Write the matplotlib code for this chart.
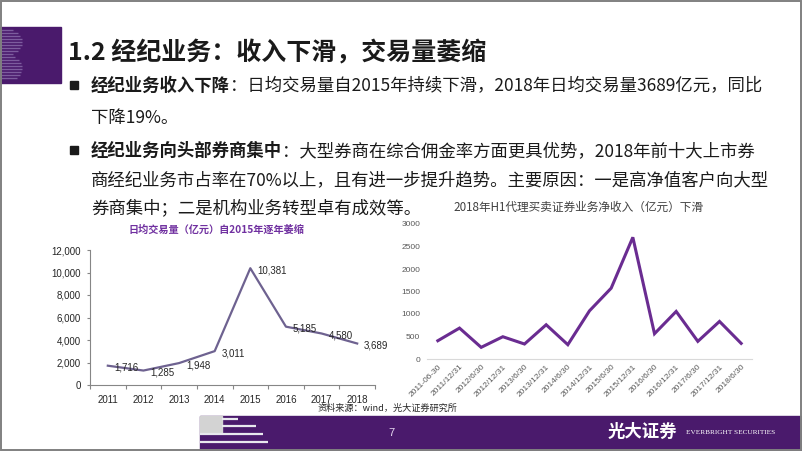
import matplotlib
matplotlib.use('Agg')
import matplotlib.pyplot as plt
from matplotlib.patches import Rectangle
import numpy as np

plt.rcParams['font.family'] = ['Noto Sans CJK SC', 'DejaVu Sans']

# ---------------- data ----------------
years = ['2011', '2012', '2013', '2014', '2015', '2016', '2017', '2018']
daily_volume = [1716, 1285, 1948, 3011, 10381, 5185, 4580, 3689]
left_yticks = [0, 2000, 4000, 6000, 8000, 10000, 12000]

periods = ['2011-06-30', '2011/12/31', '2012/6/30', '2012/12/31', '2013/6/30',
           '2013/12/31', '2014/6/30', '2014/12/31', '2015/6/30', '2015/12/31',
           '2016/6/30', '2016/12/31', '2017/6/30', '2017/12/31', '2018/6/30']
net_income = [406, 687, 259, 495, 333, 761, 318, 1071, 1574, 2704,
              562, 1057, 392, 835, 347]
right_yticks = [0, 500, 1000, 1500, 2000, 2500, 3000]

title = '1.2 经纪业务：收入下滑，交易量萎缩'
bullet1 = [('经纪业务收入下降', True), ('：日均交易量自2015年持续下滑，2018年日均交易量3689亿元，同比', False)]
bullet1_cont = '下降19%。'
bullet2 = [('经纪业务向头部券商集中', True), ('：大型券商在综合佣金率方面更具优势，2018年前十大上市券', False)]
bullet2_cont = ['商经纪业务市占率在70%以上，且有进一步提升趋势。主要原因：一是高净值客户向大型',
                '券商集中；二是机构业务转型卓有成效等。']
left_title = '日均交易量（亿元）自2015年逐年萎缩'
right_title = '2018年H1代理买卖证券业务净收入（亿元）下滑'
source_text = '资料来源：wind，光大证券研究所'
page_no = '7'
brand_cn = '光大证券'
brand_en = 'EVERBRIGHT SECURITIES'

# ---------------- figure ----------------
W, H = 802, 451
fig = plt.figure(figsize=(W / 100, H / 100), dpi=100)
fig.patch.set_facecolor('white')
bg = fig.add_axes([0, 0, 1, 1], zorder=0)
bg.set_xlim(0, W)
bg.set_ylim(H, 0)
bg.axis('off')

PURPLE = '#4A1A6C'

# top-left purple block with "B" stripes
bg.add_patch(Rectangle((0, 27), 61, 56, color=PURPLE, zorder=1))
for yy in np.arange(30, 81, 3):
    if yy < 55:
        c, r = 42, 13
    else:
        c, r = 68, 13
    t = max(0.0, 1 - ((yy - c) / r) ** 2)
    ln = 7 + 14 * np.sqrt(t)
    bg.plot([1, 1 + ln], [yy, yy], color='#7D5C9E', lw=1.0, zorder=2,
            solid_capstyle='butt')

# title
bg.text(68, 53, title, fontsize=18, fontweight='bold', va='center',
        ha='left', color='#1a1a1a', zorder=3)

fig.canvas.draw()
renderer = fig.canvas.get_renderer()


def put_line(x, y, parts, size=12.5):
    for txt, bold in parts:
        t = bg.text(x, y, txt, fontsize=size, fontweight='bold' if bold else 'normal',
                    va='center', ha='left', color='#1a1a1a', zorder=3)
        ext = t.get_window_extent(renderer=renderer)
        x0 = bg.transData.inverted().transform((ext.x0, ext.y0))[0]
        x1 = bg.transData.inverted().transform((ext.x1, ext.y0))[0]
        x = x + (x1 - x0)


TX = 91
bg.add_patch(Rectangle((70, 81), 8, 8, color='#1a1a1a', zorder=3))
put_line(TX, 86, bullet1)
put_line(TX, 118, [(bullet1_cont, False)])
bg.add_patch(Rectangle((70, 146), 8, 8, color='#1a1a1a', zorder=3))
put_line(TX, 151, bullet2)
put_line(TX, 180, [(bullet2_cont[0], False)])
put_line(TX, 208, [(bullet2_cont[1], False)])

# footer band
bg.add_patch(Rectangle((200, 416), 602, 36, color=PURPLE, zorder=1))
bg.add_patch(Rectangle((200, 416), 22, 17, color='#d3d3d3', zorder=2))
for (xa, xb, yy) in [(222, 238, 418.5), (222, 256, 425.5), (200, 263, 434), (200, 268, 442)]:
    bg.plot([xa, xb], [yy, yy], color='#e8e8ee', lw=1.6, zorder=2, solid_capstyle='butt')
bg.text(391, 433, page_no, fontsize=8, color='#e6d8f0', ha='center', va='center', zorder=3,
        family=['Liberation Sans'])
bg.text(642, 432, brand_cn, fontsize=12.5, fontweight='bold', color='white', ha='center',
        va='center', zorder=3)
bg.text(686, 433, brand_en, fontsize=5.2, color='white', ha='left', va='center', zorder=3,
        family=['Liberation Serif'])

# source
bg.text(318, 408, source_text, fontsize=6.6, color='#262626', ha='left', va='center', zorder=3)

# chart titles
bg.text(216, 230, left_title, fontsize=7.3, fontweight='bold', color='#7030A0',
        ha='center', va='center', zorder=3)
bg.text(578, 207, right_title, fontsize=8.4, color='#404040', ha='center', va='center', zorder=3)

# frame
bg.add_patch(Rectangle((0.8, 0.8), W - 1.8, H - 1.8, fill=False, edgecolor='#808080',
                       lw=1.4, zorder=5))

# ---------------- left chart ----------------
ax1 = fig.add_axes([90 / W, 1 - 385 / H, 285 / W, 135 / H], zorder=2)
ax1.set_facecolor('none')
x1 = np.arange(len(years))
ax1.plot(x1, daily_volume, color='#6E6290', lw=1.6)
for xi, v in zip(x1, daily_volume):
    ax1.annotate(f'{v:,}', (xi, v), xytext=(5, -1.5), textcoords='offset points',
                 ha='left', va='center', fontsize=7, family=['Liberation Sans'], color='#262626')
ax1.set_xlim(-0.5, len(years) - 0.5)
ax1.set_ylim(0, 12000)
ax1.set_yticks(left_yticks)
ax1.set_yticklabels([f'{t:,}' for t in left_yticks], family=['Liberation Sans'], fontsize=7,
                    color='#262626')
ax1.set_xticks(x1)
ax1.set_xticklabels(years, family=['Liberation Sans'], fontsize=7, color='#262626')
ax1.set_xticks(np.arange(-0.5, len(years), 1), minor=True)
ax1.tick_params(axis='x', which='major', length=0, pad=7)
ax1.tick_params(axis='x', which='minor', length=3, color='#868686', width=0.8)
ax1.tick_params(axis='y', length=2.5, color='#868686', width=0.8, pad=4)
for s in ['top', 'right']:
    ax1.spines[s].set_visible(False)
for s in ['left', 'bottom']:
    ax1.spines[s].set_color('#868686')
    ax1.spines[s].set_linewidth(0.8)

# ---------------- right chart ----------------
ax2 = fig.add_axes([427 / W, 1 - 359 / H, 325 / W, 135 / H], zorder=2)
ax2.set_facecolor('none')
x2 = np.arange(len(periods))
ax2.plot(x2, net_income, color='#6A2C91', lw=2.2, solid_joinstyle='miter')
ax2.set_xlim(-0.5, len(periods) - 0.5)
ax2.set_ylim(0, 3000)
ax2.set_yticks(right_yticks)
ax2.set_yticklabels([str(t) for t in right_yticks], family=['Liberation Sans'], fontsize=6,
                    color='#595959')
ax2.set_xticks(x2)
ax2.set_xticklabels(periods, rotation=45, ha='right', rotation_mode='anchor',
                    family=['Liberation Sans'], fontsize=6, color='#595959')
ax2.tick_params(axis='both', length=0)
ax2.tick_params(axis='y', pad=5)
ax2.tick_params(axis='x', pad=3)
for s in ['top', 'right', 'left']:
    ax2.spines[s].set_visible(False)
ax2.spines['bottom'].set_color('#d9d9d9')
ax2.spines['bottom'].set_linewidth(0.8)

fig.savefig('out.png', dpi=100)
